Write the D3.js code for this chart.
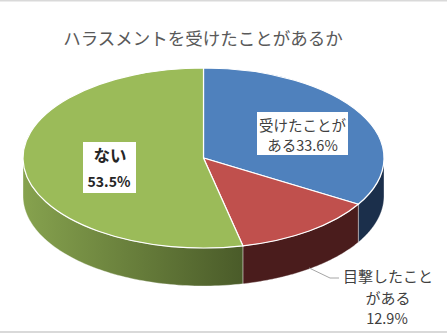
<!DOCTYPE html>
<html>
<head>
<meta charset="utf-8">
<script src="https://cdn.jsdelivr.net/npm/d3@7"></script>
<style>
  body { margin: 0; background: #fff; }
  svg { display: block; font-family: "Noto Sans CJK JP", "Noto Sans", sans-serif; }
</style>
</head>
<body>
<div id="chart"></div>
<script>
// data
const title = "ハラスメントを受けたことがあるか";
const categories = ["受けたことがある", "目撃したことがある", "ない"];
const values = [33.6, 12.9, 53.5];
const labelLines = [["受けたことが", "ある33.6%"], ["目撃したこと", "がある", "12.9%"], ["ない", "53.5%"]];

const topColors = ["#4f81bd", "#c0504d", "#9bbb59"];
const sideColors = [["#20375a", "#1b2f4b"], ["#5b2523", "#4a1c1c"], ["#86a24e", "#4a5b29"]];

const W = 447, H = 333;
const cx = 203.5, cy = 158, rx = 180.5, ry = 90, depth = 38;

const svg = d3.select("#chart").append("svg")
    .attr("width", W)
    .attr("height", H);

// thin frame lines top / bottom
svg.append("rect").attr("x", 0).attr("y", 0).attr("width", W).attr("height", 1.5).attr("fill", "#d9d9d9");
svg.append("rect").attr("x", 0).attr("y", 331).attr("width", W).attr("height", 2).attr("fill", "#d9d9d9");

// title
svg.append("text")
    .attr("x", 203)
    .attr("y", 37)
    .attr("text-anchor", "middle")
    .attr("dominant-baseline", "central")
    .style("font-size", "17.5px")
    .style("fill", "#595959")
    .text(title);

// pie angles (0 = 12 o'clock, clockwise)
const arcs = d3.pie().sort(null).value(d => d)(values);
const pt = (a, dy = 0) => [cx + rx * Math.sin(a), cy - ry * Math.cos(a) + dy];

const defs = svg.append("defs");
sideColors.forEach((c, i) => {
    const grad = defs.append("linearGradient")
        .attr("id", "side" + i)
        .attr("gradientUnits", "userSpaceOnUse")
        .attr("x1", cx - rx).attr("x2", cx + rx * 0.25)
        .attr("y1", 0).attr("y2", 0);
    if (i === 2) {
        grad.attr("x1", cx - rx).attr("x2", pt(arcs[2].startAngle)[0]);
    }
    grad.append("stop").attr("offset", 0).attr("stop-color", c[0]);
    grad.append("stop").attr("offset", 1).attr("stop-color", c[1]);
});

// side walls (front half only)
function sidePath(a0, a1) {
    const s = Math.max(a0, Math.PI / 2), e = Math.min(a1, 3 * Math.PI / 2);
    if (e <= s) return null;
    const n = 80;
    const top = d3.range(n + 1).map(i => pt(s + (e - s) * i / n));
    const bot = top.map(p => [p[0], p[1] + depth]).reverse();
    return d3.line()(top.concat(bot)) + "Z";
}

svg.append("g").selectAll("path")
    .data(arcs.filter(d => sidePath(d.startAngle, d.endAngle)))
    .enter()
    .append("path")
    .attr("d", d => sidePath(d.startAngle, d.endAngle))
    .attr("fill", d => "url(#side" + d.index + ")")
    .attr("stroke", "rgba(255,255,255,0.45)")
    .attr("stroke-width", 0.8);

// top faces
const arc = d3.arc().innerRadius(0).outerRadius(rx);
svg.append("g")
    .attr("transform", `translate(${cx},${cy}) scale(1,${ry / rx})`)
    .selectAll("path")
    .data(arcs)
    .enter()
    .append("path")
    .attr("d", arc)
    .attr("fill", d => topColors[d.index])
    .attr("stroke", "#fff")
    .attr("stroke-width", 1.2)
    .attr("vector-effect", "non-scaling-stroke");

// leader line for the small slice
const mid = (arcs[1].startAngle + arcs[1].endAngle) / 2;
const p0 = pt(mid, depth - 1);
svg.append("polyline")
    .attr("points", [p0, [330, 278], [339, 278]].map(p => p.join(",")).join(" "))
    .attr("fill", "none")
    .attr("stroke", "#a6a6a6")
    .attr("stroke-width", 1);

// labels
const labelBoxes = [
    { x: 257, y: 112, w: 91, h: 43 },
    null,
    { x: 83, y: 142, w: 53, h: 51 }
];
const labelPos = [
    [[302.5, 124, 14.5], [302.5, 144, 14.5]],
    [[388, 275, 15], [388, 297, 15], [387, 317, 14.5]],
    [[110, 155, 16.5], [109, 181, 14]]
];
const labelWeight = ["normal", "normal", "bold"];
const labelColor = ["#404040", "#404040", "#262626"];

labelLines.forEach((lines, i) => {
    const g = svg.append("g");
    if (labelBoxes[i]) {
        const b = labelBoxes[i];
        g.append("rect").attr("x", b.x).attr("y", b.y).attr("width", b.w).attr("height", b.h).attr("fill", "#fff");
    }
    lines.forEach((t, j) => {
        const p = labelPos[i][j];
        g.append("text")
            .attr("x", p[0])
            .attr("y", p[1])
            .attr("text-anchor", "middle")
            .attr("dominant-baseline", "central")
            .style("font-size", p[2] + "px")
            .style("font-weight", labelWeight[i])
            .style("fill", labelColor[i])
            .text(t);
    });
});
</script>
</body>
</html>
